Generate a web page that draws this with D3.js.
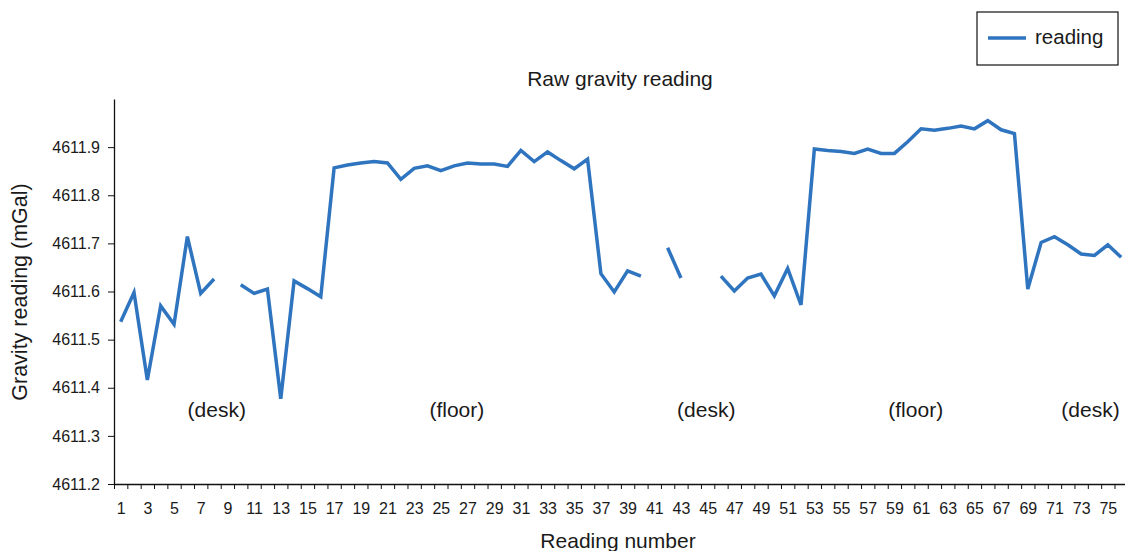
<!DOCTYPE html>
<html>
<head>
<meta charset="utf-8">
<script src="https://cdn.jsdelivr.net/npm/d3@7"></script>
<style>
  body { margin: 0; background: #fff; }
  svg { font-family: "Liberation Sans", Arial, Helvetica, sans-serif; }
  .axis path, .axis line { stroke: #111; }
  .axis text { fill: #1a1a1a; font-size: 16px; }
</style>
</head>
<body>
<svg width="1125" height="551"></svg>
<script>
// reading numbers 1..76
var readings = d3.range(1, 77);

// raw gravity values (mGal), null where no reading was drawn
var gravity = [
  4611.537, 4611.598, 4611.416, 4611.570, 4611.532, 4611.714, 4611.596, 4611.626, null, 4611.614,
  4611.596, 4611.605, 4611.377, 4611.622, 4611.606, 4611.589, 4611.857, 4611.863, 4611.867, 4611.870,
  4611.867, 4611.833, 4611.856, 4611.861, 4611.851, 4611.861, 4611.867, 4611.865, 4611.865, 4611.860,
  4611.893, 4611.870, 4611.890, 4611.872, 4611.855, 4611.875, 4611.637, 4611.599, 4611.643, 4611.632,
  null, 4611.691, 4611.628, null, null, 4611.632, 4611.601, 4611.628, 4611.636, 4611.591,
  4611.648, 4611.572, 4611.896, 4611.893, 4611.891, 4611.887, 4611.896, 4611.887, 4611.887, 4611.911,
  4611.938, 4611.935, 4611.939, 4611.944, 4611.938, 4611.955, 4611.936, 4611.928, 4611.605, 4611.702,
  4611.714, 4611.697, 4611.678, 4611.675, 4611.697, 4611.671
];

var yTicks = [4611.2, 4611.3, 4611.4, 4611.5, 4611.6, 4611.7, 4611.8, 4611.9];

// location notes (reading number, gravity value, text)
var noteText = ["(desk)", "(floor)", "(desk)", "(floor)", "(desk)"];
var noteAt = [8.2, 26.2, 44.9, 60.6, 73.7];
var noteVal = [4611.35, 4611.35, 4611.35, 4611.35, 4611.35];

var svg = d3.select("svg");
var blue = "#2f74bf";

var x = d3.scaleLinear().domain([0.5, 76.5]).range([114, 114 + 76 * 13.34]);
var y = d3.scaleLinear().domain([4611.2, 4612.0]).range([484, 99]);

var data = readings.map(function(r, i) { return {n: r, v: gravity[i]}; });

// x axis: ticks on category boundaries, labels at odd centres
svg.append("g")
    .attr("class", "axis")
    .attr("transform", "translate(0," + y(4611.2) + ")")
    .call(d3.axisBottom(x)
      .tickValues(d3.range(0, 77).map(function(k) { return k + 0.5; }))
      .tickSize(5)
      .tickSizeOuter(0)
      .tickFormat(""))
    .select(".domain").attr("stroke-width", 1.3);

svg.append("g")
    .attr("class", "axis")
    .attr("transform", "translate(0," + y(4611.2) + ")")
    .call(d3.axisBottom(x)
      .tickValues(readings.filter(function(r) { return r % 2 === 1; }))
      .tickSize(0)
      .tickPadding(19)
      .tickFormat(d3.format("d")))
    .call(function(g) { g.select(".domain").remove(); });

// y axis
svg.append("g")
    .attr("class", "axis")
    .attr("transform", "translate(" + x(0.5) + ",0)")
    .call(d3.axisLeft(y)
      .tickValues(yTicks)
      .tickSize(6)
      .tickSizeOuter(0)
      .tickPadding(8)
      .tickFormat(d3.format(".1f")))
    .select(".domain").attr("stroke-width", 1.3);

// the reading line
var line = d3.line()
    .defined(function(d) { return d.v != null; })
    .x(function(d) { return x(d.n); })
    .y(function(d) { return y(d.v); });

svg.append("path")
    .datum(data)
    .attr("fill", "none")
    .attr("stroke", blue)
    .attr("stroke-width", 3.5)
    .attr("stroke-linejoin", "miter")
    .attr("d", line);

// notes
svg.selectAll(".note")
  .data(noteText)
  .enter().append("text")
    .attr("class", "note")
    .attr("x", function(d, i) { return x(noteAt[i]); })
    .attr("y", function(d, i) { return y(noteVal[i]); })
    .attr("text-anchor", "middle")
    .attr("dominant-baseline", "middle")
    .style("font-size", "21px")
    .style("fill", "#1a1a1a")
    .text(function(d) { return d; });

// title
svg.append("text")
    .attr("x", 620)
    .attr("y", 86)
    .attr("text-anchor", "middle")
    .style("font-size", "21px")
    .style("fill", "#1a1a1a")
    .text("Raw gravity reading");

// axis titles
svg.append("text")
    .attr("x", 618)
    .attr("y", 548)
    .attr("text-anchor", "middle")
    .style("font-size", "21px")
    .style("fill", "#1a1a1a")
    .text("Reading number");

svg.append("text")
    .attr("transform", "translate(27,292) rotate(-90)")
    .attr("text-anchor", "middle")
    .style("font-size", "21.5px")
    .style("fill", "#1a1a1a")
    .text("Gravity reading (mGal)");

// legend
var legend = svg.append("g").attr("transform", "translate(977,12)");
legend.append("rect")
    .attr("width", 141)
    .attr("height", 53)
    .attr("fill", "#fff")
    .attr("stroke", "#111")
    .attr("stroke-width", 1.2);
legend.append("line")
    .attr("x1", 11).attr("x2", 49)
    .attr("y1", 26).attr("y2", 26)
    .attr("stroke", blue)
    .attr("stroke-width", 3.5);
legend.append("text")
    .attr("x", 58)
    .attr("y", 27)
    .attr("dominant-baseline", "middle")
    .style("font-size", "20.5px")
    .style("fill", "#1a1a1a")
    .text("reading");
</script>
</body>
</html>
